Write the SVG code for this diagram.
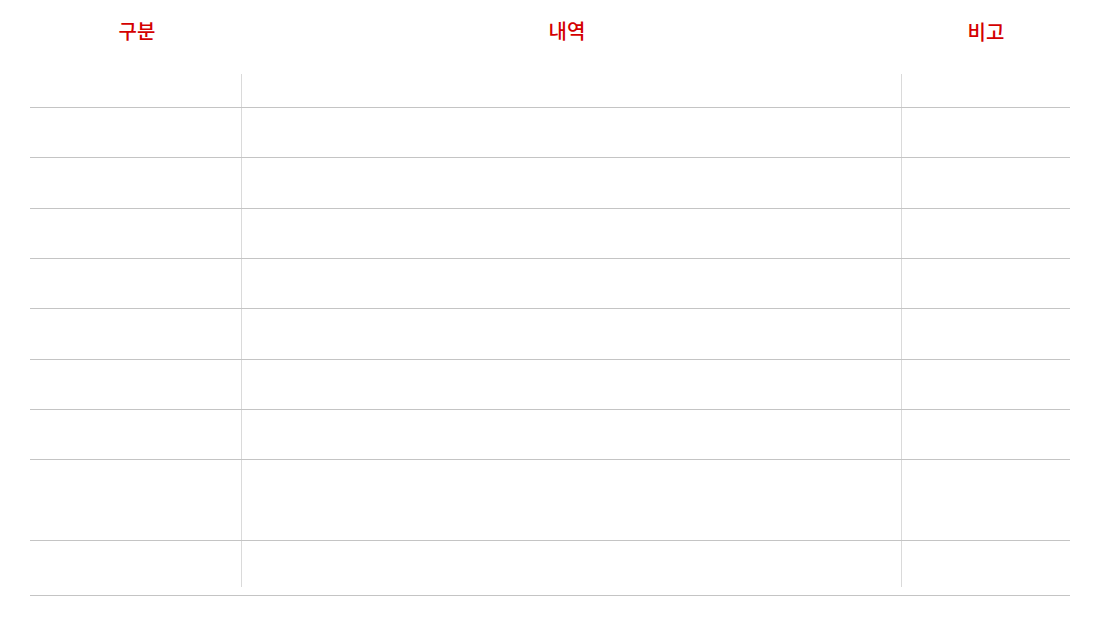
<svg xmlns="http://www.w3.org/2000/svg" width="1100" height="625" viewBox="0 0 1100 625">
<style>
.h{font-family:"Noto Sans CJK KR","Noto Sans",sans-serif;font-size:20px;font-weight:500;fill:#d40000;text-anchor:middle}
.r{stroke:#c4c4c4;stroke-width:1}
.v{stroke:#dadada;stroke-width:1}
</style>
<rect width="1100" height="625" fill="#fff"/>
<g id="header">
<text class="h" x="137" y="39">구분</text>
<text class="h" x="567" y="39">내역</text>
<text class="h" x="986" y="40">비고</text>
</g>
<g id="lines">
<line class="v" x1="241.5" y1="74" x2="241.5" y2="587"/>
<line class="v" x1="901.5" y1="74" x2="901.5" y2="587"/>
<line class="r" x1="30" y1="107.5" x2="1070" y2="107.5"/>
<line class="r" x1="30" y1="157.5" x2="1070" y2="157.5"/>
<line class="r" x1="30" y1="208.5" x2="1070" y2="208.5"/>
<line class="r" x1="30" y1="258.5" x2="1070" y2="258.5"/>
<line class="r" x1="30" y1="308.5" x2="1070" y2="308.5"/>
<line class="r" x1="30" y1="359.5" x2="1070" y2="359.5"/>
<line class="r" x1="30" y1="409.5" x2="1070" y2="409.5"/>
<line class="r" x1="30" y1="459.5" x2="1070" y2="459.5"/>
<line class="r" x1="30" y1="540.5" x2="1070" y2="540.5"/>
<line class="r" x1="30" y1="595.5" x2="1070" y2="595.5"/>
</g>
</svg>
